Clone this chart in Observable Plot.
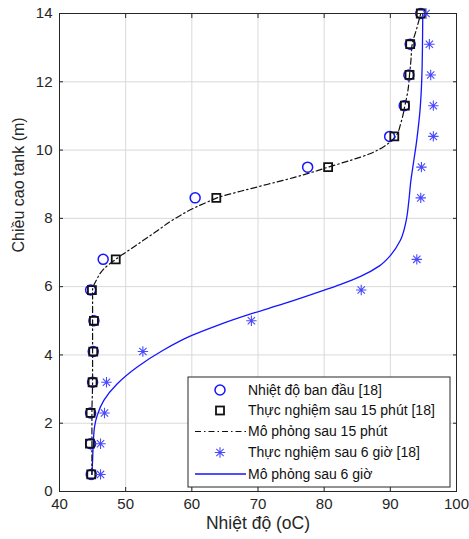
<!DOCTYPE html>
<html>
<head>
<meta charset="utf-8">
<script src="https://cdn.jsdelivr.net/npm/d3@7"></script>
<script src="https://cdn.jsdelivr.net/npm/@observablehq/plot@0.6"></script>
<style>
  html, body { margin: 0; padding: 0; background: #fff; }
  #chart { position: relative; width: 469px; height: 539px; }
</style>
</head>
<body>
<div id="chart"></div>
<script>
// Measured heights (m)
const heights = [0.5, 1.4, 2.3, 3.2, 4.1, 5.0, 5.9, 6.8, 8.6, 9.5, 10.4, 11.3, 12.2, 13.1, 14.0];
// Initial temperature [18]
const initialTemp = [44.8, 44.7, 44.7, 45.0, 45.1, 45.2, 44.7, 46.6, 60.5, 77.5, 89.9, 92.1, 92.8, 93.0, 94.6];
// Experiment after 15 min [18]
const exp15Temp = [44.8, 44.6, 44.7, 45.0, 45.1, 45.2, 44.9, 48.5, 63.7, 80.6, 90.6, 92.2, 92.9, 93.0, 94.6];
// Experiment after 6 h [18]
const exp6hTemp = [46.2, 46.2, 46.8, 47.1, 52.6, 69.0, 85.6, 94.0, 94.6, 94.7, 96.5, 96.5, 96.1, 95.9, 95.4];

// Simulation after 15 min
const sim15Height = [0.5, 1.4, 2.3, 3.2, 4.1, 5.0, 5.9, 6.2, 6.5, 6.8, 7.2, 7.6, 8.0, 8.3, 8.5, 8.6, 8.8, 9.0, 9.2, 9.4, 9.5, 9.7, 9.9, 10.1, 10.3, 10.4, 10.8, 11.3, 11.8, 12.2, 12.6, 13.1, 13.5, 14.0];
const sim15Temp   = [44.9, 44.9, 44.9, 45.0, 45.0, 45.0, 45.0, 45.6, 46.6, 48.5, 51.5, 54.5, 57.5, 60.3, 62.6, 63.8, 67.5, 71.5, 75.5, 79.0, 80.6, 84.0, 87.0, 89.0, 90.3, 90.8, 91.6, 92.2, 92.7, 92.9, 93.1, 93.3, 93.9, 94.6];

// Simulation after 6 h
const sim6hHeight = [0.5, 0.9, 1.4, 1.9, 2.23, 2.67, 3.15, 3.64, 4.13, 4.57, 4.86, 5.2, 5.5, 5.89, 6.06, 6.3, 6.6, 6.91, 7.35, 7.94, 8.52, 9.1, 9.5, 10.3, 11.2, 12.4, 14.0];
const sim6hTemp   = [44.9, 45.0, 45.1, 45.3, 45.7, 46.7, 48.7, 51.7, 55.6, 60.0, 63.8, 68.9, 73.9, 79.9, 82.4, 85.5, 88.3, 90.0, 91.5, 92.4, 92.8, 93.1, 93.4, 94.0, 94.5, 94.8, 94.9];

const xTicks = [40, 50, 60, 70, 80, 90, 100];
const yTicks = [0, 2, 4, 6, 8, 10, 12, 14];
const xLabel = "Nhiệt độ (oC)";
const yLabel = "Chiều cao tank (m)";

const legendLabels = [
  "Nhiệt độ ban đầu [18]",
  "Thực nghiệm sau 15 phút [18]",
  "Mô phỏng sau 15 phút",
  "Thực nghiệm sau 6 giờ [18]",
  "Mô phỏng sau 6 giờ"
];

const pts = (xs) => xs.map((x, i) => ({x, y: heights[i]}));
const initialData = pts(initialTemp);
const exp15Data = pts(exp15Temp);
const exp6hData = pts(exp6hTemp);
const sim15Data = sim15Temp.map((x, i) => ({x, y: sim15Height[i]}));
const sim6hData = sim6hTemp.map((x, i) => ({x, y: sim6hHeight[i]}));

const BLUE = "#1515ff";
const STAR = "#4a4aff";
const FONT = "'Liberation Sans', Arial, sans-serif";
const noLabel = () => "";

// MATLAB-like '*' marker: 8 arms (+ and x)
const star8 = {
  draw(context, size) {
    const r = Math.sqrt(size) * 0.65;
    const d = r * Math.SQRT1_2;
    context.moveTo(-r, 0); context.lineTo(r, 0);
    context.moveTo(0, -r); context.lineTo(0, r);
    context.moveTo(-d, -d); context.lineTo(d, d);
    context.moveTo(-d, d); context.lineTo(d, -d);
  }
};

const chart = Plot.plot({
  width: 469,
  height: 539,
  marginLeft: 59,
  marginRight: 13,
  marginTop: 13,
  marginBottom: 48,
  style: {fontFamily: FONT, fontSize: "15px", color: "#262626", background: "#fff"},
  x: {domain: [40, 100], ticks: xTicks},
  y: {domain: [0, 14], ticks: yTicks},
  marks: [
    Plot.gridX(xTicks, {stroke: "#d9d9d9", strokeOpacity: 1, strokeWidth: 1}),
    Plot.gridY(yTicks, {stroke: "#d9d9d9", strokeOpacity: 1, strokeWidth: 1}),
    Plot.axisX({ticks: xTicks, tickSize: 0, tickPadding: 7, fontSize: 15, label: null}),
    Plot.axisY({ticks: yTicks, tickSize: 0, tickPadding: 7, fontSize: 15, label: null}),
    Plot.axisX({ticks: xTicks, anchor: "bottom", tickSize: -4, tickFormat: noLabel, label: null, stroke: "#262626"}),
    Plot.axisX({ticks: xTicks, anchor: "top", tickSize: -4, tickFormat: noLabel, label: null, stroke: "#262626"}),
    Plot.axisY({ticks: yTicks, anchor: "left", tickSize: -4, tickFormat: noLabel, label: null, stroke: "#262626"}),
    Plot.axisY({ticks: yTicks, anchor: "right", tickSize: -4, tickFormat: noLabel, label: null, stroke: "#262626"}),
    Plot.text([xLabel], {text: d => d, frameAnchor: "bottom", dy: 37, fontSize: 17.5, fill: "#262626"}),
    Plot.text([yLabel], {text: d => d, frameAnchor: "left", dx: -41, rotate: -90, fontSize: 16, fill: "#262626"}),
    Plot.line(sim6hData, {x: "x", y: "y", stroke: BLUE, strokeWidth: 1.3, curve: "monotone-y"}),
    Plot.line(sim15Data, {x: "x", y: "y", stroke: "#111", strokeWidth: 1.2, strokeDasharray: "6,3,1.5,3", curve: "monotone-y"}),
    Plot.dot(initialData, {x: "x", y: "y", r: 5, stroke: BLUE, strokeWidth: 1.5, fill: "none"}),
    Plot.dot(exp15Data, {x: "x", y: "y", symbol: "square", r: 4.5, stroke: "#111", strokeWidth: 1.8, fill: "none"}),
    Plot.dot(exp6hData, {x: "x", y: "y", symbol: star8, r: 4.5, stroke: STAR, strokeWidth: 1.1, fill: "none"}),
    Plot.frame({stroke: "#262626", strokeWidth: 1})
  ]
});

document.getElementById("chart").appendChild(chart);

// Legend box (layout only)
const svg = d3.select(chart);
const lg = svg.append("g").attr("font-family", FONT).attr("font-size", 14).attr("fill", "#111").attr("text-anchor", "start");
const box = {x: 188, y: 377, w: 262, h: 110};
lg.append("rect").attr("x", box.x).attr("y", box.y).attr("width", box.w).attr("height", box.h)
  .attr("fill", "#fff").attr("stroke", "#262626").attr("stroke-width", 1);
const rowY = [390, 410.5, 431.5, 452.5, 474];
const mx = 220, textX = 248;
legendLabels.forEach((t, i) => {
  lg.append("text").attr("x", textX).attr("y", rowY[i]).attr("dy", "0.35em").attr("text-anchor", "start").text(t);
});
lg.append("circle").attr("cx", mx).attr("cy", rowY[0]).attr("r", 5).attr("fill", "none").attr("stroke", BLUE).attr("stroke-width", 1.5);
lg.append("rect").attr("x", mx - 4).attr("y", rowY[1] - 4).attr("width", 8).attr("height", 8).attr("fill", "none").attr("stroke", "#111").attr("stroke-width", 1.8);
lg.append("line").attr("x1", 195).attr("x2", 246).attr("y1", rowY[2]).attr("y2", rowY[2]).attr("stroke", "#111").attr("stroke-width", 1.2).attr("stroke-dasharray", "6,3,1.5,3");
lg.append("path").attr("transform", `translate(${mx},${rowY[3]})`).attr("d", d3.symbol(star8, 64)()).attr("stroke", STAR).attr("stroke-width", 1.1).attr("fill", "none");
lg.append("line").attr("x1", 195).attr("x2", 246).attr("y1", rowY[4]).attr("y2", rowY[4]).attr("stroke", BLUE).attr("stroke-width", 1.3);
</script>
</body>
</html>
